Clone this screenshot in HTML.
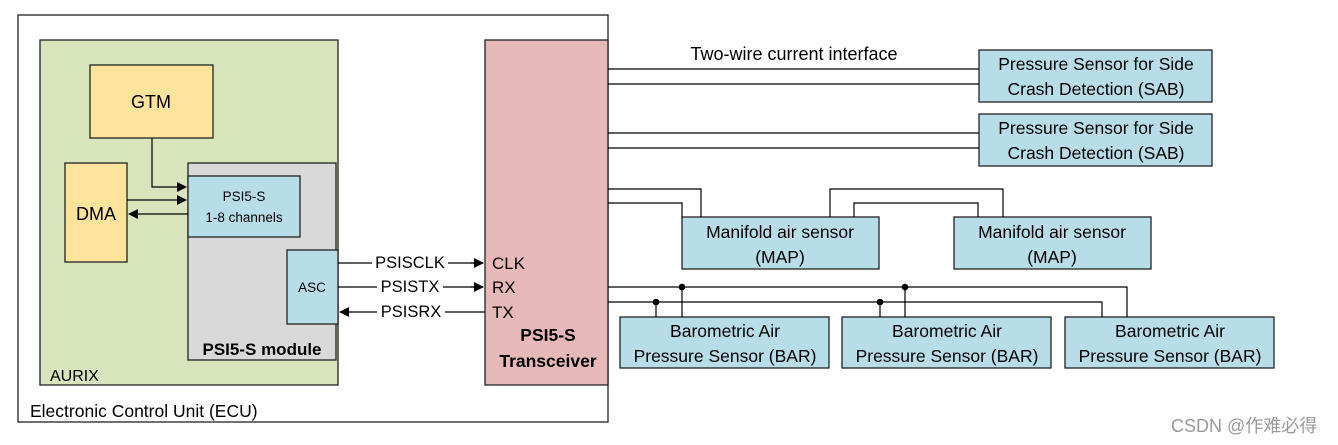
<!DOCTYPE html>
<html><head><meta charset="utf-8"><style>
body{margin:0;background:#fff}
svg{display:block}
text{font-family:"Liberation Sans",sans-serif;fill:#000}
</style></head><body>
<svg width="1338" height="445" viewBox="0 0 1338 445" xmlns="http://www.w3.org/2000/svg">
<defs><marker id="a" markerWidth="10" markerHeight="10" refX="9" refY="5" orient="auto" markerUnits="userSpaceOnUse"><path d="M0,0 L10,5 L0,10 z" fill="#000"/></marker></defs>
<g stroke="#222" stroke-width="1.3">
<rect x="18" y="15" width="590" height="407" fill="#fff"/>
<rect x="40" y="40" width="298" height="345" fill="#d8e4bc"/>
<rect x="90" y="65" width="123" height="73" fill="#fde49a"/>
<rect x="65" y="163" width="62" height="99" fill="#fde49a"/>
<rect x="188" y="163" width="148" height="197" fill="#d9d9d9"/>
<rect x="188" y="176" width="112" height="61" fill="#b7dde8"/>
<rect x="287" y="250" width="51" height="74" fill="#b7dde8"/>
<rect x="485" y="40" width="123" height="345" fill="#e6b8b7"/>
<rect x="979" y="50" width="233" height="52" fill="#b7dde8"/>
<rect x="979" y="114" width="233" height="52" fill="#b7dde8"/>
<rect x="682" y="217" width="197" height="52" fill="#b7dde8"/>
<rect x="954" y="217" width="197" height="52" fill="#b7dde8"/>
<rect x="620" y="317" width="209" height="51" fill="#b7dde8"/>
<rect x="842" y="317" width="209" height="51" fill="#b7dde8"/>
<rect x="1065" y="317" width="209" height="51" fill="#b7dde8"/>
</g>
<g stroke="#000" stroke-width="1.2" fill="none">
<path d="M152,138 V187 H186" marker-end="url(#a)"/>
<path d="M127,200 H186" marker-end="url(#a)"/>
<path d="M188,214 H129" marker-end="url(#a)"/>
<path d="M338,263 H372 M448,263 H483" /><path d="M470,263 H483" marker-end="url(#a)"/>
<path d="M338,287 H377 M443,287 H483" /><path d="M470,287 H483" marker-end="url(#a)"/>
<path d="M485,312 H445 M377,312 H350"/><path d="M352,312 H340" marker-end="url(#a)"/>
<path d="M608,69 H979 M608,84 H979 M608,133 H979 M608,148 H979"/>
<path d="M608,189 H701 V217 M608,203 H682 V217"/>
<path d="M830,217 V189 H1003 V217 M854,217 V203 H978 V217"/>
<path d="M608,287 H1127 V317 M608,302 H1102 V317"/>
<path d="M682,287 V317 M656,302 V317 M905,287 V317 M880,302 V317"/>
</g>
<g fill="#000"><circle cx="682" cy="287" r="3.3"/><circle cx="656" cy="302" r="3.3"/><circle cx="905" cy="287" r="3.3"/><circle cx="880" cy="302" r="3.3"/></g>
<g font-size="17.5" text-anchor="middle">
<text x="151" y="108" font-size="18">GTM</text>
<text x="96" y="220" font-size="18">DMA</text>
<text x="244" y="201" font-size="13.5">PSI5-S</text>
<text x="244" y="222" font-size="13.5">1-8 channels</text>
<text x="312" y="292" font-size="13.5">ASC</text>
<text x="262" y="355" font-weight="bold" font-size="17">PSI5-S module</text>
<text x="410" y="268" font-size="16.5">PSISCLK</text>
<text x="410" y="292" font-size="16.5">PSISTX</text>
<text x="411" y="317" font-size="16.5">PSISRX</text>
<text x="548" y="341" font-weight="bold" font-size="17.5">PSI5-S</text>
<text x="548" y="367" font-weight="bold" font-size="17.5">Transceiver</text>
<text x="794" y="60" font-size="18">Two-wire current interface</text>
<text x="1096" y="70">Pressure Sensor for Side</text>
<text x="1096" y="95">Crash Detection (SAB)</text>
<text x="1096" y="134">Pressure Sensor for Side</text>
<text x="1096" y="159">Crash Detection (SAB)</text>
<text x="780" y="238">Manifold air sensor</text>
<text x="780" y="263">(MAP)</text>
<text x="1052" y="238">Manifold air sensor</text>
<text x="1052" y="263">(MAP)</text>
<text x="725" y="337">Barometric Air</text>
<text x="725" y="362">Pressure Sensor  (BAR)</text>
<text x="947" y="337">Barometric Air</text>
<text x="947" y="362">Pressure Sensor  (BAR)</text>
<text x="1170" y="337">Barometric Air</text>
<text x="1170" y="362">Pressure Sensor  (BAR)</text>
</g>
<g font-size="17">
<text x="492" y="269">CLK</text>
<text x="492" y="293">RX</text>
<text x="492" y="318">TX</text>
<text x="50" y="381" font-size="16">AURIX</text>
<text x="30" y="417" font-size="17.5">Electronic Control Unit (ECU)</text>
</g>
<text x="1171" y="432" font-size="18" style="fill:#999;font-family:'Liberation Sans','Noto Sans CJK SC',sans-serif">CSDN @作难必得</text>
</svg>
</body></html>
